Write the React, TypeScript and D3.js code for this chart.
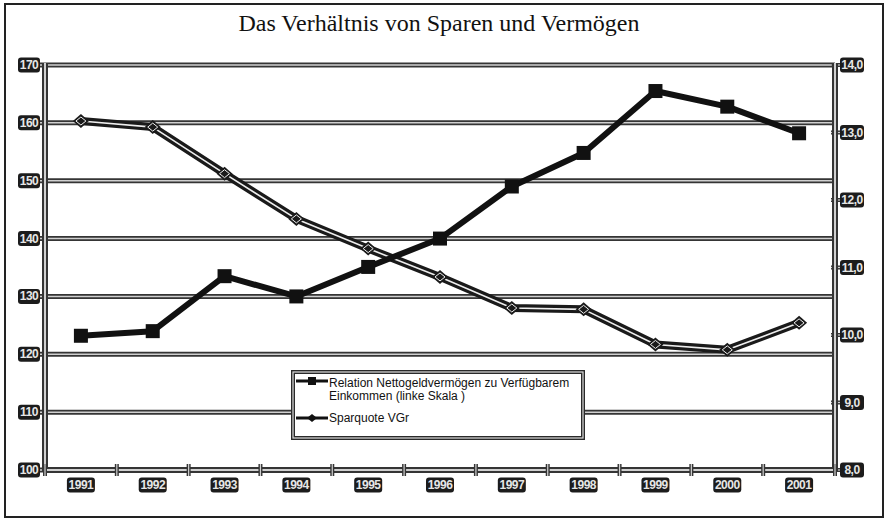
import React from 'react';
import * as d3 from 'd3';

const years = ['1991', '1992', '1993', '1994', '1995', '1996', '1997', '1998', '1999', '2000', '2001'];
const relation = [123.2, 124.0, 133.5, 130.0, 135.1, 140.0, 149.0, 154.8, 165.5, 162.8, 158.2];
const sparquote = [13.17, 13.08, 12.39, 11.72, 11.28, 10.86, 10.4, 10.38, 9.86, 9.78, 10.18];
const leftTicks = [100, 110, 120, 130, 140, 150, 160, 170];
const rightTicks = [8, 9, 10, 11, 12, 13, 14];
const title = 'Das Verhältnis von Sparen und Vermögen';
const legend1a = 'Relation Nettogeldvermögen zu Verfügbarem';
const legend1b = 'Einkommen (linke Skala )';
const legend2 = 'Sparquote VGr';

const W = 886, H = 519;
const L = 45, R = 835, T = 65, B = 470;

function Label({ x, y, text, w }: { x: number; y: number; text: string; w: number }) {
  return (
    <g>
      <rect x={x - w / 2} y={y - 7.5} width={w} height={15} rx={3} fill="#1c1c1c" />
      <text x={x} y={y + 4} textAnchor="middle" fontFamily="'Liberation Sans Narrow','Liberation Sans',sans-serif"
        fontWeight="bold" fontSize={12} fill="#e6e6e6" letterSpacing={-0.5}>{text}</text>
    </g>
  );
}

function DoubleLine({ x1, y1, x2, y2, outer = 5, inner = 1.5 }: any) {
  return (
    <g>
      <line x1={x1} y1={y1} x2={x2} y2={y2} stroke="#353535" strokeWidth={outer} />
      <line x1={x1} y1={y1} x2={x2} y2={y2} stroke="#d0d0d0" strokeWidth={inner} />
    </g>
  );
}

export default function App() {
  const x = d3.scaleBand<string>().domain(years).range([L, R]);
  const yL = d3.scaleLinear().domain([100, 170]).range([B, T]);
  const yR = d3.scaleLinear().domain([8, 14]).range([B, T]);
  const cx = (d: string) => (x(d) as number) + x.bandwidth() / 2;

  const line1 = d3.line<number>().x((_, i) => cx(years[i])).y((d) => yL(d));
  const line2 = d3.line<number>().x((_, i) => cx(years[i])).y((d) => yR(d));
  const boundaries = years.map((y) => x(y) as number).concat([R]);

  const lx = 293, ly = 372, lw = 290, lh = 66;

  return (
    <svg width={W} height={H} style={{ position: 'absolute', left: 0, top: 0 }}>
      <rect x={0} y={0} width={W} height={H} fill="#fff" />
      <rect x={5} y={4} width={878} height={513} fill="none" stroke="#222" strokeWidth={2} />
      <text x={439} y={31} textAnchor="middle" fontFamily="'Liberation Serif','Times New Roman',serif" fontSize={24} fill="#111">{title}</text>

      {leftTicks.map((t) => (
        <DoubleLine key={t} x1={L - 5} y1={yL(t)} x2={R} y2={yL(t)} />
      ))}
      {rightTicks.map((t) => (
        <DoubleLine key={'r' + t} x1={R - 4} y1={yR(t)} x2={R + 5} y2={yR(t)} outer={4} inner={1.2} />
      ))}
      <DoubleLine x1={L} y1={T - 2} x2={L} y2={B + 2} outer={6} inner={2} />
      <DoubleLine x1={R} y1={T - 2} x2={R} y2={B + 2} outer={6} inner={2} />
      <DoubleLine x1={L - 2} y1={B} x2={R + 2} y2={B} outer={6} inner={2} />
      {boundaries.map((b, i) => (
        <DoubleLine key={'xt' + i} x1={b} y1={B - 6} x2={b} y2={B + 6} outer={4} inner={1.2} />
      ))}

      <path d={line2(sparquote) || ''} fill="none" stroke="#1a1a1a" strokeWidth={8} strokeLinejoin="round" />
      <path d={line2(sparquote) || ''} fill="none" stroke="#eee" strokeWidth={1.6} strokeLinejoin="round" />
      {sparquote.map((v, i) => {
        const px = cx(years[i]), py = yR(v);
        return (
          <g key={'d' + i}>
            <path d={`M${px - 8},${py} L${px},${py - 7} L${px + 8},${py} L${px},${py + 7} Z`} fill="#1a1a1a" />
            <path d={`M${px - 5},${py} L${px},${py - 4} L${px + 5},${py} L${px},${py + 4} Z`} fill="none" stroke="#eee" strokeWidth={1} />
          </g>
        );
      })}

      <path d={line1(relation) || ''} fill="none" stroke="#111" strokeWidth={6} strokeLinejoin="round" />
      {relation.map((v, i) => (
        <rect key={'s' + i} x={cx(years[i]) - 7} y={yL(v) - 7} width={14} height={14} fill="#111" />
      ))}

      <rect x={lx} y={ly} width={lw} height={lh} fill="#fff" stroke="#2a2a2a" strokeWidth={4} />
      <rect x={lx} y={ly} width={lw} height={lh} fill="none" stroke="#ddd" strokeWidth={1.2} />
      <line x1={lx + 3} y1={ly + 9} x2={lx + 35} y2={ly + 9} stroke="#111" strokeWidth={3} />
      <rect x={lx + 15} y={ly + 5} width={8} height={8} fill="#111" />
      <line x1={lx + 3} y1={ly + 46} x2={lx + 35} y2={ly + 46} stroke="#111" strokeWidth={3} />
      <path d={`M${lx + 14},${ly + 46} L${lx + 19},${ly + 42} L${lx + 24},${ly + 46} L${lx + 19},${ly + 50} Z`} fill="#111" />
      <g fontFamily="'Liberation Sans Narrow','Liberation Sans',sans-serif" fontSize={12} fill="#111">
        <text x={lx + 36} y={ly + 15}>{legend1a}</text>
        <text x={lx + 36} y={ly + 28}>{legend1b}</text>
        <text x={lx + 36} y={ly + 50}>{legend2}</text>
      </g>

      {leftTicks.map((t) => (
        <Label key={'ll' + t} x={29} y={yL(t)} text={String(t)} w={22} />
      ))}
      {rightTicks.map((t) => (
        <Label key={'rl' + t} x={852} y={yR(t)} text={d3.format('.1f')(t).replace('.', ',')} w={24} />
      ))}
      {years.map((yv) => (
        <Label key={'xl' + yv} x={cx(yv)} y={485} text={yv} w={28} />
      ))}
    </svg>
  );
}
